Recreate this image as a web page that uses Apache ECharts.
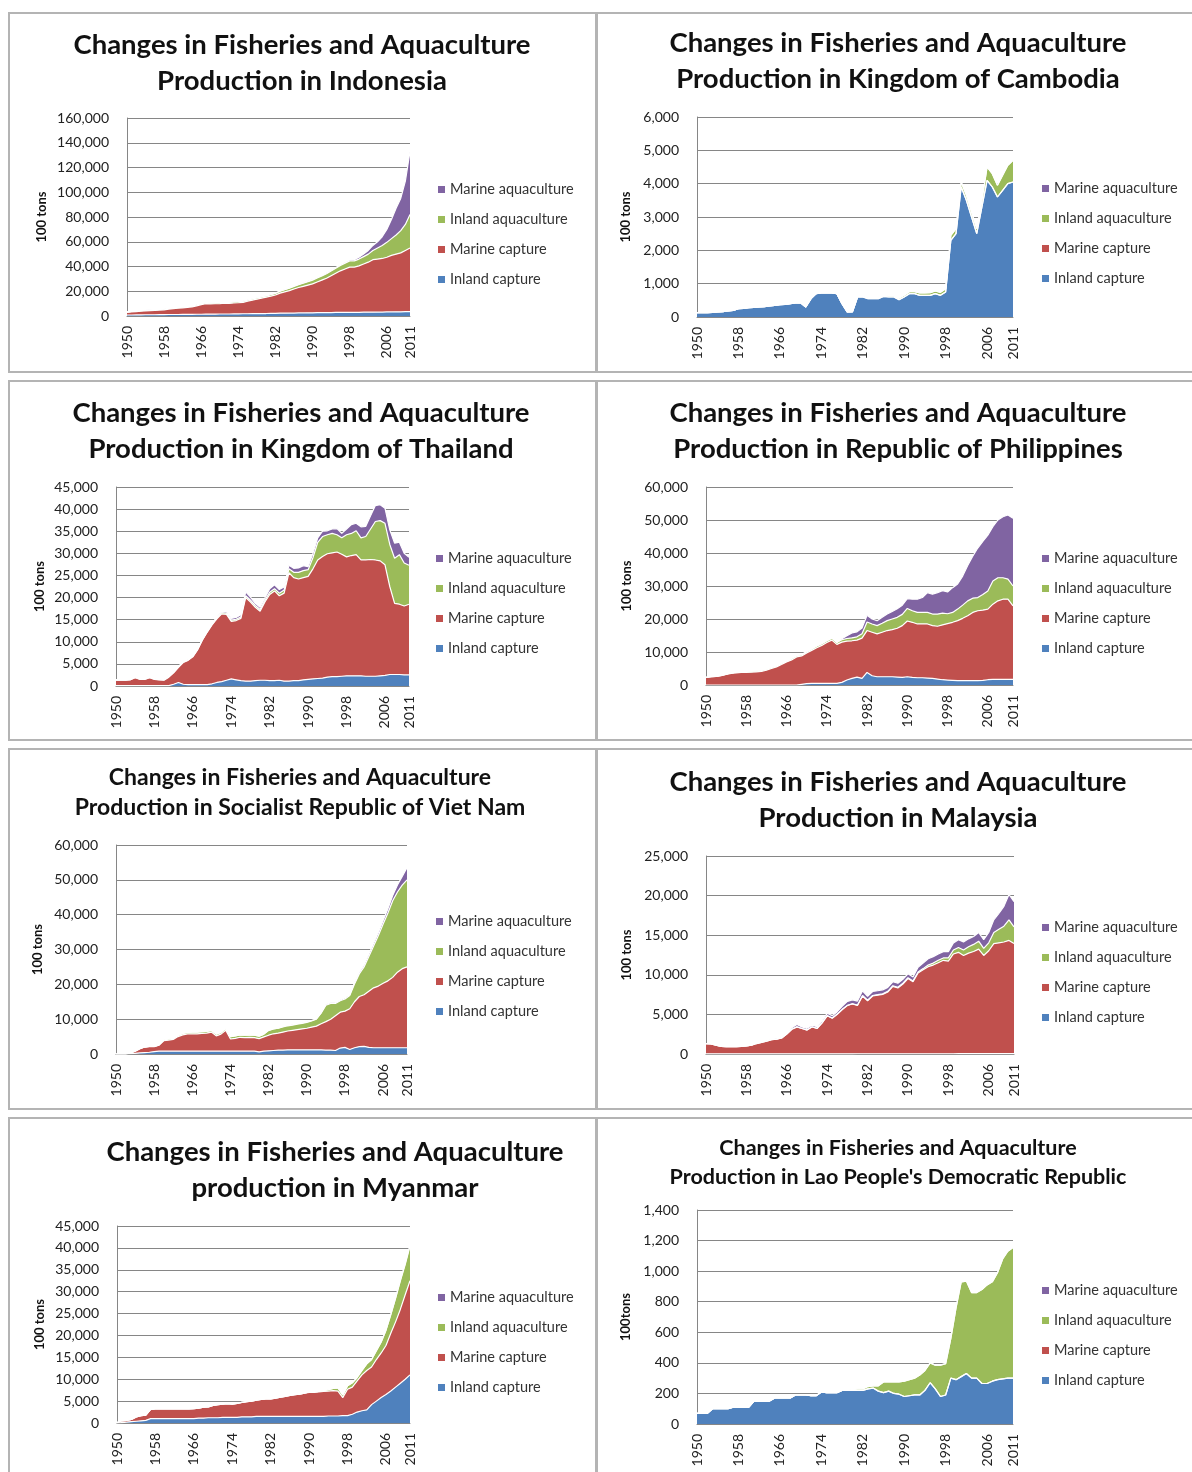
<!DOCTYPE html>
<html lang="en">
<head>
<meta charset="UTF-8">
<title>Changes in Fisheries and Aquaculture Production</title>
<script src="https://cdn.jsdelivr.net/npm/echarts@6/dist/echarts.min.js"></script>
<style>
    body { margin: 0; background: #fff; overflow: hidden; width: 1192px; height: 1472px; position: relative; }
    .frame { position: absolute; box-sizing: border-box; border: 2px solid #b4b4b4; }
    .chart { position: absolute; }
</style>
<script>
// years on the x axis
var years = [1950,1951,1952,1953,1954,1955,1956,1957,1958,1959,
    1960,1961,1962,1963,1964,1965,1966,1967,1968,1969,
    1970,1971,1972,1973,1974,1975,1976,1977,1978,1979,
    1980,1981,1982,1983,1984,1985,1986,1987,1988,1989,
    1990,1991,1992,1993,1994,1995,1996,1997,1998,1999,
    2000,2001,2002,2003,2004,2005,2006,2007,2008,2009,
    2010,2011];

// Indonesia (100 tons)
var idnInlandCapture = [800,800,900,900,1000,1000,1000,1100,1100,1200, 1200,1200,1300,1300,1300,1400,1400,1500,1500,1500, 1600,1600,1600,1700,1700,1800,1800,1900,1900,2000, 2000,2100,2200,2300,2300,2400,2400,2500,2500,2600, 2600,2700,2700,2800,2800,2900,2900,3000,3000,3000, 3000,3100,3100,3100,3200,3200,3300,3300,3400,3400, 3500,3500];
var idnMarineCapture = [2200,2500,2700,3000,3200,3400,3600,3700,3900,4400, 4800,5100,5300,5700,6100,6800,7800,8500,8300,8400, 8400,8700,8600,8800,9000,9200,10200,10900,11700,12400, 13200,13900,14800,16200,17200,18100,19400,20500,21500,22400, 23400,24800,26300,27700,29700,31600,33600,35000,36500,36500, 37500,38900,40400,42400,42800,43300,44200,45700,46600,47600, 49500,51500];
var idnInlandAqua = [400,400,400,450,450,500,500,500,550,550, 600,600,600,650,650,700,700,700,750,750, 800,800,800,850,850,900,900,950,1000,1000, 1100,1200,1300,1500,1700,1900,2100,2300,2500,2700, 3000,3200,3400,3600,3800,4000,4300,4600,5000,5000, 5500,6000,6500,7500,9000,10500,12000,13500,15500,18000, 21000,27000];
var idnMarineAqua = [100,100,100,100,100,100,100,100,100,100, 100,100,100,100,100,100,100,100,100,100, 150,150,150,150,150,150,150,150,150,150, 200,200,200,250,250,300,300,350,400,500, 500,500,600,600,600,700,700,700,800,1000, 1500,2000,3000,4000,5000,7000,10500,15500,21500,26000, 35000,51000];

// Kingdom of Cambodia
var khmInlandCapture = [130,130,130,140,150,160,180,200,250,260, 280,290,300,310,330,350,370,380,400,420, 430,300,550,700,720,720,720,700,400,150, 150,600,600,550,550,550,620,600,600,520, 600,700,700,650,650,650,700,650,750,2300, 2500,3900,3500,3000,2500,3300,4100,3900,3600,3800, 4000,4050];
var khmMarineCapture = [0,0,0,0,0,0,0,0,0,0, 0,0,0,0,0,0,0,0,0,0, 0,0,0,0,0,0,0,0,0,0, 0,0,0,0,0,0,0,0,0,0, 0,0,0,0,0,0,0,0,0,0, 0,0,0,0,0,0,0,0,0,0, 0,0];
var khmInlandAqua = [0,0,0,0,0,0,0,0,0,0, 0,0,0,0,0,0,0,0,0,0, 0,0,0,0,0,0,0,0,0,0, 10,10,20,20,20,20,30,30,30,40, 50,60,60,70,70,80,80,90,100,150, 150,150,150,150,150,200,400,400,350,450, 550,650];
var khmMarineAqua = [0,0,0,0,0,0,0,0,0,0, 0,0,0,0,0,0,0,0,0,0, 0,0,0,0,0,0,0,0,0,0, 0,0,0,0,0,0,0,0,0,0, 0,0,0,0,0,0,0,0,0,0, 0,0,0,0,0,0,0,0,0,0, 0,0];

// Kingdom of Thailand
var thaInlandCapture = [100,100,100,100,100,100,100,100,100,100, 100,100,400,800,400,300,300,300,300,300, 500,800,1000,1300,1600,1400,1200,1100,1100,1200, 1300,1300,1200,1200,1300,1100,1100,1200,1200,1400, 1500,1600,1700,1800,2000,2100,2100,2200,2300,2300, 2300,2300,2200,2200,2200,2300,2400,2600,2600,2600, 2500,2500];
var thaMarineCapture = [1200,1200,1200,1300,1800,1400,1400,1800,1400,1300, 1200,1900,2600,3400,4900,5500,6300,7900,10100,11900, 13300,14400,15300,14900,13000,13400,14100,18900,17900,16600, 15600,17700,19500,20300,19100,19900,24500,23300,23000,23100, 23300,24900,26800,27500,27900,28000,28200,27600,26900,27200, 27400,26200,26300,26400,26300,26000,25000,19900,16100,15900, 15600,16000];
var thaInlandAqua = [50,50,50,50,50,50,50,50,50,50, 100,100,100,100,100,100,100,100,100,100, 200,200,300,300,300,300,300,400,400,400, 400,400,500,500,600,700,900,1200,1500,1600, 1500,2500,4000,4500,4300,4400,3900,3700,5000,5000, 5400,5000,5300,6900,8700,9100,9400,9500,10200,11200, 9700,8800];
var thaMarineAqua = [100,100,100,100,100,100,100,100,100,100, 100,100,100,100,100,100,100,100,100,100, 200,200,300,300,400,400,500,900,700,500, 500,500,800,900,800,700,800,900,1000,1100, 700,1000,1000,1200,900,1000,1400,1000,1300,2000, 1700,2500,2300,3000,3600,3600,3400,3300,3400,2800, 2200,1800];

// Republic of Philippines
var phlInlandCapture = [0,0,0,0,0,0,0,0,0,0, 0,0,0,0,0,0,0,0,0,200, 400,500,500,500,500,500,500,800,1500,2000, 2400,2000,3800,2800,2500,2500,2500,2500,2400,2300, 2500,2300,2200,2200,2100,2000,1800,1600,1500,1400, 1300,1300,1300,1300,1300,1400,1600,1700,1700,1700, 1700,1700];
var phlMarineCapture = [2300,2500,2600,2800,3200,3500,3700,3800,3800,3900, 4000,4100,4500,5000,5500,6200,7000,7600,8500,8600, 9300,10000,10800,11500,12400,13100,11800,12200,11800,11400, 11200,12200,12700,13200,13000,13500,14000,14300,14800,15700, 16900,16700,16300,16300,16400,16000,16000,16600,17100,17600, 18200,18900,19700,20700,21200,21300,21400,22800,23800,24300, 24300,22300];
var phlInlandAqua = [0,0,0,100,100,200,200,300,300,300, 300,300,300,300,300,300,300,400,400,400, 400,400,500,500,500,600,600,700,800,900, 1000,1300,2600,2500,2500,2700,3000,3200,3300,3400, 3800,3500,3500,3500,3500,3500,3700,3600,3000,3000, 3500,4000,4500,4300,4000,4700,5500,7000,7000,6500, 6100,6000];
var phlMarineAqua = [0,0,0,0,0,0,0,0,0,0, 0,0,0,0,0,0,0,0,0,0, 0,0,0,0,0,0,0,300,800,1500, 1500,1800,2000,1500,1500,1800,2000,2300,2600,2800, 3000,3500,4000,4500,6000,6000,6500,6800,6600,7500, 7600,8800,10700,12700,15000,16100,16900,16500,17500,18500, 19400,20500];

// Socialist Republic of Viet Nam
var vnmInlandCapture = [0,0,0,100,200,300,400,500,700,800, 800,800,800,800,800,800,800,800,800,800, 800,800,800,800,800,800,800,800,800,800, 600,800,900,1000,1100,1100,1200,1200,1200,1200, 1200,1200,1200,1200,1100,1100,1000,1700,1900,1300, 1800,2100,2200,1900,1800,1800,1800,1800,1800,1800, 1800,1800];
var vnmMarineCapture = [0,0,0,200,600,1200,1600,1700,1400,1700, 3000,3200,3400,4200,4700,5000,5000,5000,5100,5200, 5500,4400,4900,6000,3500,3700,4000,3900,4000,3900, 3800,4100,4500,4800,4900,5200,5400,5600,5800,6000, 6200,6500,6800,7500,8200,8900,10000,10300,10400,11700, 13200,14400,14800,16100,17200,17700,18500,19200,20200,21700, 22700,23200];
var vnmInlandAqua = [0,0,0,0,0,0,0,0,100,100, 200,300,300,300,400,400,500,500,500,500, 500,500,500,500,700,700,700,700,700,700, 700,800,1400,1400,1400,1500,1500,1500,1600,1600, 1700,1800,2000,3000,4700,4500,3500,3300,3500,3800, 5100,6500,8000,10000,12000,14500,17000,19500,22000,23000, 24000,25000];
var vnmMarineAqua = [0,0,0,0,0,0,0,0,0,0, 0,0,0,0,0,0,0,0,0,0, 0,0,0,0,0,0,0,0,0,0, 0,0,0,0,0,100,100,100,100,100, 100,100,100,200,200,200,200,200,300,300, 400,500,600,700,800,900,1000,1200,1500,2000, 2500,3500];

// Malaysia
var mysInlandCapture = [20,20,20,20,20,20,20,20,20,20, 20,20,20,20,20,20,20,20,20,20, 20,20,20,20,20,20,20,20,20,20, 30,30,30,30,30,30,30,30,30,30, 30,30,30,30,30,30,30,30,30,30, 40,40,40,40,40,40,40,40,40,40, 40,40];
var mysMarineCapture = [1300,1250,1100,950,900,900,900,950,1000,1100, 1300,1450,1600,1800,1850,2000,2500,3100,3400,3200, 3000,3400,3200,3900,4800,4500,5000,5600,6100,6300, 6100,7300,6700,7300,7400,7500,7800,8500,8300,8800, 9500,9100,10200,10600,11000,11200,11500,11800,11700,12600, 12800,12400,12700,12900,13200,12400,13000,13900,14000,14100, 14300,13900];
var mysInlandAqua = [0,0,0,0,0,0,0,0,0,0, 0,0,0,0,0,0,0,0,0,0, 20,20,20,20,20,20,20,20,20,20, 50,50,50,60,60,70,80,90,100,100, 100,100,120,150,200,250,300,300,400,500, 600,700,800,900,1000,900,1000,1400,1700,2000, 2600,2100];
var mysMarineAqua = [0,0,0,0,0,0,0,0,0,0, 50,50,50,50,50,50,100,200,300,200, 200,200,200,250,300,300,300,400,500,500, 500,600,500,500,500,500,500,500,500,500, 500,500,600,700,800,800,800,800,800,900, 1000,1000,1000,1000,1100,1100,1300,1600,2000,2500, 3200,3200];

// Myanmar
var mmrInlandCapture = [0,100,200,300,400,500,600,1000,1000,1000, 1000,1000,1000,1000,1000,1000,1000,1100,1100,1200, 1200,1200,1300,1300,1300,1300,1400,1400,1400,1500, 1500,1500,1500,1500,1500,1500,1500,1500,1500,1500, 1500,1500,1500,1500,1600,1600,1600,1700,1700,2000, 2500,2800,3000,4200,5000,5800,6500,7300,8200,9100, 10000,11000];
var mmrMarineCapture = [100,400,400,500,1000,1200,1200,2100,2200,2200, 2200,2200,2200,2200,2200,2200,2300,2300,2500,2500, 2800,3000,3000,3100,3000,3200,3300,3500,3600,3700, 3900,4000,4000,4200,4400,4600,4800,5000,5100,5300, 5500,5500,5600,5700,5700,5800,5700,4100,6000,6200, 7100,8200,9000,8600,9500,10200,11200,13200,14900,16900, 19300,21500];
var mmrInlandAqua = [0,0,0,0,0,0,0,0,0,0, 0,0,0,0,0,0,0,0,0,0, 0,0,0,0,0,0,0,0,0,0, 0,0,0,0,0,0,0,0,0,0, 100,100,100,200,300,500,700,600,800,1000, 800,1000,1500,1700,2000,2500,3500,4200,5400,6500, 6900,7900];
var mmrMarineAqua = [0,0,0,0,0,0,0,0,0,0, 0,0,0,0,0,0,0,0,0,0, 0,0,0,0,0,0,0,0,0,0, 0,0,0,0,0,0,0,0,0,0, 0,0,0,0,0,0,0,0,0,0, 0,0,0,0,0,0,0,100,100,200, 200,300];

// Lao People's Democratic Republic
var laoInlandCapture = [70,70,70,100,100,100,100,110,110,110, 110,150,150,150,150,170,170,170,170,190, 190,190,185,185,210,205,205,205,220,220, 220,220,220,230,235,215,205,215,200,195, 180,185,190,190,220,270,230,180,190,300, 290,310,330,300,300,265,265,280,290,295, 300,300];
var laoMarineCapture = [0,0,0,0,0,0,0,0,0,0, 0,0,0,0,0,0,0,0,0,0, 0,0,0,0,0,0,0,0,0,0, 0,0,0,0,0,0,0,0,0,0, 0,0,0,0,0,0,0,0,0,0, 0,0,0,0,0,0,0,0,0,0, 0,0];
var laoInlandAqua = [0,0,0,0,0,0,0,0,0,0, 0,0,0,0,0,0,0,0,0,0, 0,0,0,0,0,0,0,0,0,0, 5,10,10,15,15,35,70,60,75,80, 100,105,110,130,130,130,155,205,205,260, 470,620,605,560,560,615,645,650,700,785, 830,855];
var laoMarineAqua = [0,0,0,0,0,0,0,0,0,0, 0,0,0,0,0,0,0,0,0,0, 0,0,0,0,0,0,0,0,0,0, 0,0,0,0,0,0,0,0,0,0, 0,0,0,0,0,0,0,0,0,0, 0,0,0,0,0,0,0,0,0,0, 0,0];

var seriesNames = ['Inland capture', 'Marine capture', 'Inland aquaculture', 'Marine aquaculture'];
var seriesColors = ['#4F81BD', '#C0504D', '#9BBB59', '#8064A2'];
var legendOrder = ['Marine aquaculture', 'Inland aquaculture', 'Marine capture', 'Inland capture'];

var head = 'Changes in Fisheries and Aquaculture\n';
var FONT = 'Lato, "Open Sans", sans-serif';

// page layout: box = panel frame, plot = [left, top, right, bottom] in page pixels
var panels = [
    { title: head + 'Production in Indonesia', box: [8, 12, 589, 361], plot: [127, 118, 410, 316],
      tx: 302, ty: 45, ts: 27.5, tlh: 36, lx: 438, ly: 190, nx: 42, yName: '100 tons', max: 160000, step: 20000,
      data: [idnInlandCapture, idnMarineCapture, idnInlandAqua, idnMarineAqua] },
    { title: head + 'Production in Kingdom of Cambodia', box: [596, 12, 610, 361], plot: [697, 117, 1013, 317],
      tx: 898, ty: 43, ts: 27.5, tlh: 36, lx: 1042, ly: 189, nx: 628, yName: '100 tons', max: 6000, step: 1000,
      data: [khmInlandCapture, khmMarineCapture, khmInlandAqua, khmMarineAqua] },
    { title: head + 'Production in Kingdom of Thailand', box: [8, 380, 589, 361], plot: [116, 487, 409, 686],
      tx: 301, ty: 413, ts: 27.5, tlh: 36, lx: 436, ly: 559, nx: 40, yName: '100 tons', max: 45000, step: 5000,
      data: [thaInlandCapture, thaMarineCapture, thaInlandAqua, thaMarineAqua] },
    { title: head + 'Production in Republic of Philippines', box: [596, 380, 610, 361], plot: [706, 487, 1013, 685],
      tx: 898, ty: 413, ts: 27.5, tlh: 36, lx: 1042, ly: 559, nx: 628, yName: '100 tons', max: 60000, step: 10000,
      data: [phlInlandCapture, phlMarineCapture, phlInlandAqua, phlMarineAqua] },
    { title: head + 'Production in Socialist Republic of Viet Nam', box: [8, 748, 589, 362], plot: [116, 845, 407, 1054],
      tx: 300, ty: 778, ts: 23, tlh: 30, lx: 436, ly: 922, nx: 38, yName: '100 tons', max: 60000, step: 10000,
      data: [vnmInlandCapture, vnmMarineCapture, vnmInlandAqua, vnmMarineAqua] },
    { title: head + 'Production in Malaysia', box: [596, 748, 610, 362], plot: [706, 856, 1014, 1054],
      tx: 898, ty: 782, ts: 27.5, tlh: 36, lx: 1042, ly: 928, nx: 628, yName: '100 tons', max: 25000, step: 5000,
      data: [mysInlandCapture, mysMarineCapture, mysInlandAqua, mysMarineAqua] },
    { title: 'Changes in Fisheries and Aquaculture\nproduction in Myanmar', box: [8, 1117, 589, 370], plot: [117, 1226, 410, 1423],
      tx: 335, ty: 1152, ts: 27.5, tlh: 36, lx: 438, ly: 1298, nx: 40, yName: '100 tons', max: 45000, step: 5000,
      data: [mmrInlandCapture, mmrMarineCapture, mmrInlandAqua, mmrMarineAqua] },
    { title: head + "Production in Lao People's Democratic Republic", box: [596, 1117, 610, 370], plot: [697, 1210, 1013, 1424],
      tx: 898, ty: 1148, ts: 21.5, tlh: 29, lx: 1042, ly: 1291, nx: 628, yName: '100tons', max: 1400, step: 200,
      data: [laoInlandCapture, laoMarineCapture, laoInlandAqua, laoMarineAqua] }
];

function buildOption(p) {
    var ox = p.box[0], oy = p.box[1];
    var series = [];
    for (var k = 0; k < 4; k++) {
        series.push({
            name: seriesNames[k],
            type: 'line',
            stack: 'total',
            data: p.data[k],
            symbol: 'none',
            itemStyle: { color: seriesColors[k] },
            lineStyle: { color: '#ffffff', width: 1.2 },
            areaStyle: { color: seriesColors[k], opacity: 1 },
            emphasis: { disabled: true }
        });
    }
    return {
        animation: false,
        textStyle: { fontFamily: FONT },
        title: {
            text: p.title,
            left: p.tx - ox,
            top: p.ty - oy - p.tlh / 2,
            textAlign: 'center',
            padding: 0,
            textStyle: { fontFamily: FONT, fontSize: p.ts, fontWeight: 'bold', color: '#111', lineHeight: p.tlh }
        },
        legend: {
            data: legendOrder,
            orient: 'vertical',
            left: p.lx - ox,
            top: p.ly - oy - 8,
            padding: 0,
            icon: 'rect',
            itemWidth: 7,
            itemHeight: 7,
            itemGap: 15,
            selectedMode: false,
            textStyle: { fontFamily: FONT, fontSize: 14.5, color: '#333', lineHeight: 15 }
        },
        grid: {
            left: p.plot[0] - ox,
            top: p.plot[1] - oy,
            width: p.plot[2] - p.plot[0],
            height: p.plot[3] - p.plot[1],
            containLabel: false
        },
        xAxis: {
            type: 'category',
            data: years,
            boundaryGap: false,
            axisLine: { lineStyle: { color: '#868686' } },
            axisTick: { show: false },
            axisLabel: {
                rotate: 90,
                margin: 10,
                fontSize: 14,
                color: '#222',
                interval: function (i) { return i % 8 === 0 || i === years.length - 1; }
            }
        },
        yAxis: {
            type: 'value',
            min: 0,
            max: p.max,
            interval: p.step,
            name: p.yName,
            nameLocation: 'middle',
            nameGap: p.plot[0] - p.nx - 6,
            nameTextStyle: { fontFamily: FONT, fontSize: 13, fontWeight: 'bold', color: '#111' },
            axisLine: { show: true, lineStyle: { color: '#868686' } },
            axisTick: { show: false },
            splitLine: { lineStyle: { color: '#868686' } },
            axisLabel: {
                margin: 18,
                fontSize: 14,
                color: '#222',
                formatter: function (v) { return v.toLocaleString('en-US'); }
            }
        },
        series: series
    };
}

window.onload = function () {
    panels.forEach(function (p) {
        var frame = document.createElement('div');
        frame.className = 'frame';
        frame.style.cssText = 'left:' + p.box[0] + 'px;top:' + p.box[1] + 'px;width:' + p.box[2] + 'px;height:' + p.box[3] + 'px;';
        document.body.appendChild(frame);
        var el = document.createElement('div');
        el.className = 'chart';
        el.style.cssText = 'left:' + p.box[0] + 'px;top:' + p.box[1] + 'px;width:' + p.box[2] + 'px;height:' + p.box[3] + 'px;';
        document.body.appendChild(el);
        var chart = echarts.init(el);
        chart.setOption(buildOption(p));
    });
};
</script>
</head>
<body>
</body>
</html>
